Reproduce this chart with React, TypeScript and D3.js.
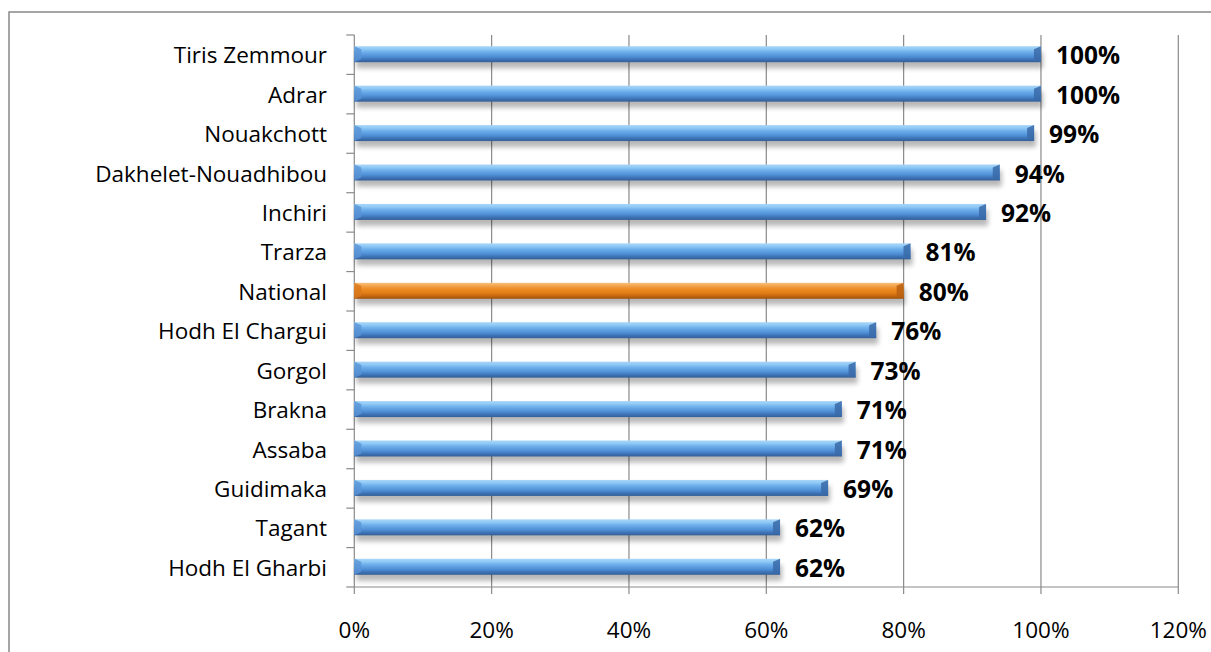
import React from "react";
import * as d3 from "d3";

const categories = [
  "Tiris Zemmour",
  "Adrar",
  "Nouakchott",
  "Dakhelet-Nouadhibou",
  "Inchiri",
  "Trarza",
  "National",
  "Hodh El Chargui",
  "Gorgol",
  "Brakna",
  "Assaba",
  "Guidimaka",
  "Tagant",
  "Hodh El Gharbi",
];
const values = [100, 100, 99, 94, 92, 81, 80, 76, 73, 71, 71, 69, 62, 62];
const highlight = ["National"];
const xTicks = [0, 20, 40, 60, 80, 100, 120];

const W = 1211;
const H = 652;
const plot = { left: 354.3, right: 1178.3, top: 35, bottom: 587 };

export default function App() {
  const x = d3.scaleLinear().domain([0, 120]).range([plot.left, plot.right]);
  const y = d3
    .scaleBand<string>()
    .domain(categories)
    .range([plot.top, plot.bottom])
    .paddingInner(0)
    .paddingOuter(0);
  const bw = y.bandwidth();
  const barH = 16;
  const font = "'Open Sans', Lato, sans-serif";
  const grid = "#8a8a8a";

  return (
    <svg
      width={W}
      height={H}
      style={{ position: "fixed", left: 0, top: 0, background: "#fff" }}
    >
      <defs>
        <linearGradient id="gBlue" x1="0" y1="0" x2="0" y2="1">
          <stop offset="0" stopColor="#a9d6f7" />
          <stop offset="0.18" stopColor="#8fcaf6" />
          <stop offset="0.35" stopColor="#6fb0ec" />
          <stop offset="0.65" stopColor="#4f8fd6" />
          <stop offset="0.85" stopColor="#3b70b3" />
          <stop offset="1" stopColor="#355f96" />
        </linearGradient>
        <linearGradient id="gOrange" x1="0" y1="0" x2="0" y2="1">
          <stop offset="0" stopColor="#f7c080" />
          <stop offset="0.18" stopColor="#f4a650" />
          <stop offset="0.35" stopColor="#ee8f2a" />
          <stop offset="0.65" stopColor="#e27c15" />
          <stop offset="0.85" stopColor="#bf6410" />
          <stop offset="1" stopColor="#9e520e" />
        </linearGradient>
        <filter id="shadow" x="-5%" y="-100%" width="110%" height="300%">
          <feGaussianBlur stdDeviation="2.5" />
        </filter>
      </defs>

      <rect
        x={9}
        y={12}
        width={W + 20}
        height={H + 20}
        fill="#fff"
        stroke="#888"
        strokeWidth={1.5}
      />

      {/* vertical grid lines */}
      {xTicks.map((t) => (
        <line
          key={"g" + t}
          x1={x(t)}
          x2={x(t)}
          y1={plot.top}
          y2={plot.bottom + 7}
          stroke={grid}
          strokeWidth={1.2}
        />
      ))}

      {/* x axis line */}
      <line
        x1={plot.left}
        x2={plot.right}
        y1={plot.bottom}
        y2={plot.bottom}
        stroke={grid}
        strokeWidth={1.2}
      />
      {/* y tick marks */}
      {d3.range(categories.length + 1).map((i) => (
        <line
          key={"yt" + i}
          x1={plot.left - 8}
          x2={plot.left}
          y1={plot.top + i * bw}
          y2={plot.top + i * bw}
          stroke={grid}
          strokeWidth={1.2}
        />
      ))}

      {/* bars */}
      {categories.map((c, i) => {
        const v = values[i];
        const cy = (y(c) as number) + bw / 2 - 0.5;
        const x0 = x(0);
        const x1 = x(v);
        const top = cy - barH / 2;
        const isH = highlight.includes(c);
        const fill = isH ? "url(#gOrange)" : "url(#gBlue)";
        const cap = isH ? "#b85f10" : "#3a6aa8";
        const capLight = isH ? "#d9781a" : "#5a93d6";
        return (
          <g key={c}>
            <rect
              x={x0 + 2}
              y={top + 6}
              width={x1 - x0}
              height={barH}
              fill="#000"
              opacity={0.28}
              filter="url(#shadow)"
            />
            <rect x={x0} y={top} width={x1 - x0} height={barH} fill={fill} />
            <polygon
              points={`${x1 - 7},${top + 3} ${x1},${top} ${x1},${top + barH} ${x1 - 7},${top + barH - 3}`}
              fill={cap}
              opacity={0.85}
            />
            <polygon
              points={`${x0},${top} ${x0 + 7},${top + 3} ${x0 + 7},${top + barH - 3} ${x0},${top + barH}`}
              fill={capLight}
              opacity={0.8}
            />
            <text
              x={x1 + 15}
              y={cy + 10}
              fontFamily={font}
              fontWeight={700}
              fontSize={24.5}
              fill="#000"
            >
              {v}%
            </text>
          </g>
        );
      })}

      {/* category labels */}
      {categories.map((c) => (
        <text
          key={"l" + c}
          x={327}
          y={(y(c) as number) + bw / 2 + 8.6}
          textAnchor="end"
          fontFamily={font}
          fontSize={22.5}
          fill="#000"
        >
          {c}
        </text>
      ))}

      {/* x tick labels */}
      {xTicks.map((t) => (
        <text
          key={"xl" + t}
          x={x(t)}
          y={638}
          textAnchor="middle"
          fontFamily={font}
          fontSize={22.5}
          fill="#000"
        >
          {t}%
        </text>
      ))}
    </svg>
  );
}
